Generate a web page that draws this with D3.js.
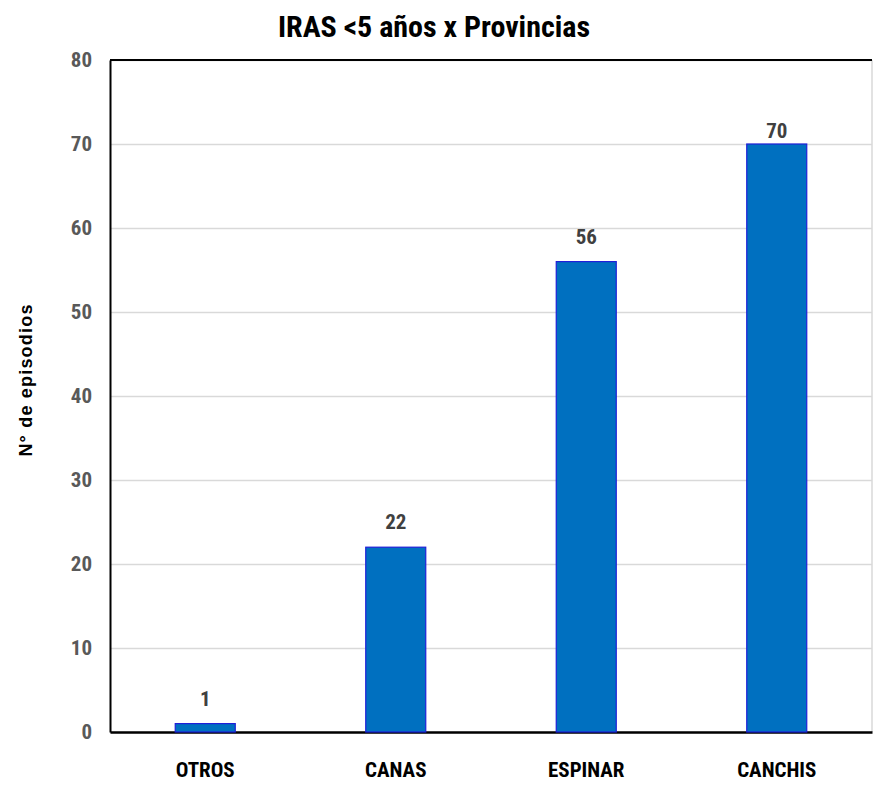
<!DOCTYPE html>
<html>
<head>
<meta charset="utf-8">
<script src="https://cdn.jsdelivr.net/npm/d3@7"></script>
<style>
  body { margin: 0; background: #fff; }
</style>
</head>
<body>
<svg id="chart" width="874" height="785"></svg>
<script>
// data
const provincias = ['OTROS', 'CANAS', 'ESPINAR', 'CANCHIS']
const episodios = [1, 22, 56, 70]
const yTicks = [0, 10, 20, 30, 40, 50, 60, 70, 80]

const svgWidth = 874
const svgHeight = 785
const margin = { left: 110, right: 2, top: 60, bottom: 53 }
const width = svgWidth - margin.left - margin.right
const height = svgHeight - margin.top - margin.bottom

const narrow = "'Liberation Sans Narrow', 'Arial Narrow', 'Roboto Condensed', sans-serif"

const svg = d3.select('#chart')
const g = svg.append('g').attr('transform', `translate(${margin.left},${margin.top})`)

const xScale = d3.scaleBand()
    .range([0, width])
    .domain(provincias)
    .paddingInner(0.685)
    .paddingOuter(0.3425)

const yScale = d3.scaleLinear()
    .range([height, 0])
    .domain([0, 80])

// gridlines
g.append('g')
    .attr('class', 'y-grid')
    .call(d3.axisLeft(yScale).tickValues(yTicks).tickSize(-width).tickFormat(''))
    .call(g => g.select('.domain').remove())
    .call(g => g.selectAll('.tick>line').attr('stroke', '#d9d9d9').attr('stroke-width', 1.5))

// right border
g.append('line')
    .attr('x1', width).attr('x2', width)
    .attr('y1', 0).attr('y2', height)
    .attr('stroke', '#d9d9d9').attr('stroke-width', 1.5)

// y axis
g.append('g')
    .attr('class', 'y-axis')
    .call(d3.axisLeft(yScale).tickValues(yTicks).tickSize(0).tickPadding(18))
    .call(g => g.select('.domain').attr('stroke', '#000').attr('stroke-width', 2))
    .call(g => g.selectAll('text')
        .attr('font-family', narrow)
        .attr('font-weight', 'bold')
        .attr('font-size', 21)
        .attr('dy', '0.3em')
        .attr('fill', '#595959'))

// x axis
g.append('g')
    .attr('class', 'x-axis')
    .attr('transform', `translate(0,${height})`)
    .call(d3.axisBottom(xScale).tickSize(0).tickPadding(30))
    .call(g => g.select('.domain').attr('stroke', '#000').attr('stroke-width', 2.5))
    .call(g => g.selectAll('text')
        .attr('font-family', narrow)
        .attr('font-weight', 'bold')
        .attr('font-size', 21)
        .attr('fill', '#000'))

// top border
g.append('line')
    .attr('x1', 0).attr('x2', width)
    .attr('y1', 0).attr('y2', 0)
    .attr('stroke', '#000').attr('stroke-width', 2)

// bars
g.selectAll('.bar')
    .data(provincias)
    .join('rect')
    .attr('class', 'bar')
    .attr('x', d => xScale(d))
    .attr('y', (d, i) => yScale(episodios[i]))
    .attr('width', xScale.bandwidth())
    .attr('height', (d, i) => height - yScale(episodios[i]))
    .attr('fill', '#0070c0')
    .attr('stroke', '#1f1fd8')
    .attr('stroke-width', 1.2)

// value labels (the tallest one sits closer to its bar, as in the original)
const maxVal = d3.max(episodios)
g.selectAll('.bar-label')
    .data(provincias)
    .join('text')
    .attr('class', 'bar-label')
    .attr('x', d => xScale(d) + xScale.bandwidth() / 2)
    .attr('y', (d, i) => yScale(episodios[i]) - (episodios[i] === maxVal ? 6 : 18))
    .attr('text-anchor', 'middle')
    .attr('font-family', narrow)
    .attr('font-weight', 'bold')
    .attr('font-size', 21)
    .attr('fill', '#404040')
    .text((d, i) => episodios[i])

// title
svg.append('text')
    .attr('x', 434)
    .attr('y', 37)
    .attr('text-anchor', 'middle')
    .attr('font-family', narrow)
    .attr('font-weight', 'bold')
    .attr('font-size', 30)
    .attr('fill', '#000')
    .text('IRAS <5 años x Provincias')

// y label
svg.append('text')
    .attr('transform', 'translate(32,380) rotate(-90)')
    .attr('text-anchor', 'middle')
    .attr('font-family', "'Liberation Sans', Arial, sans-serif")
    .attr('font-weight', 'bold')
    .attr('font-size', 18)
    .attr('letter-spacing', 1.2)
    .attr('fill', '#000')
    .text('N° de episodios')
</script>
</body>
</html>
